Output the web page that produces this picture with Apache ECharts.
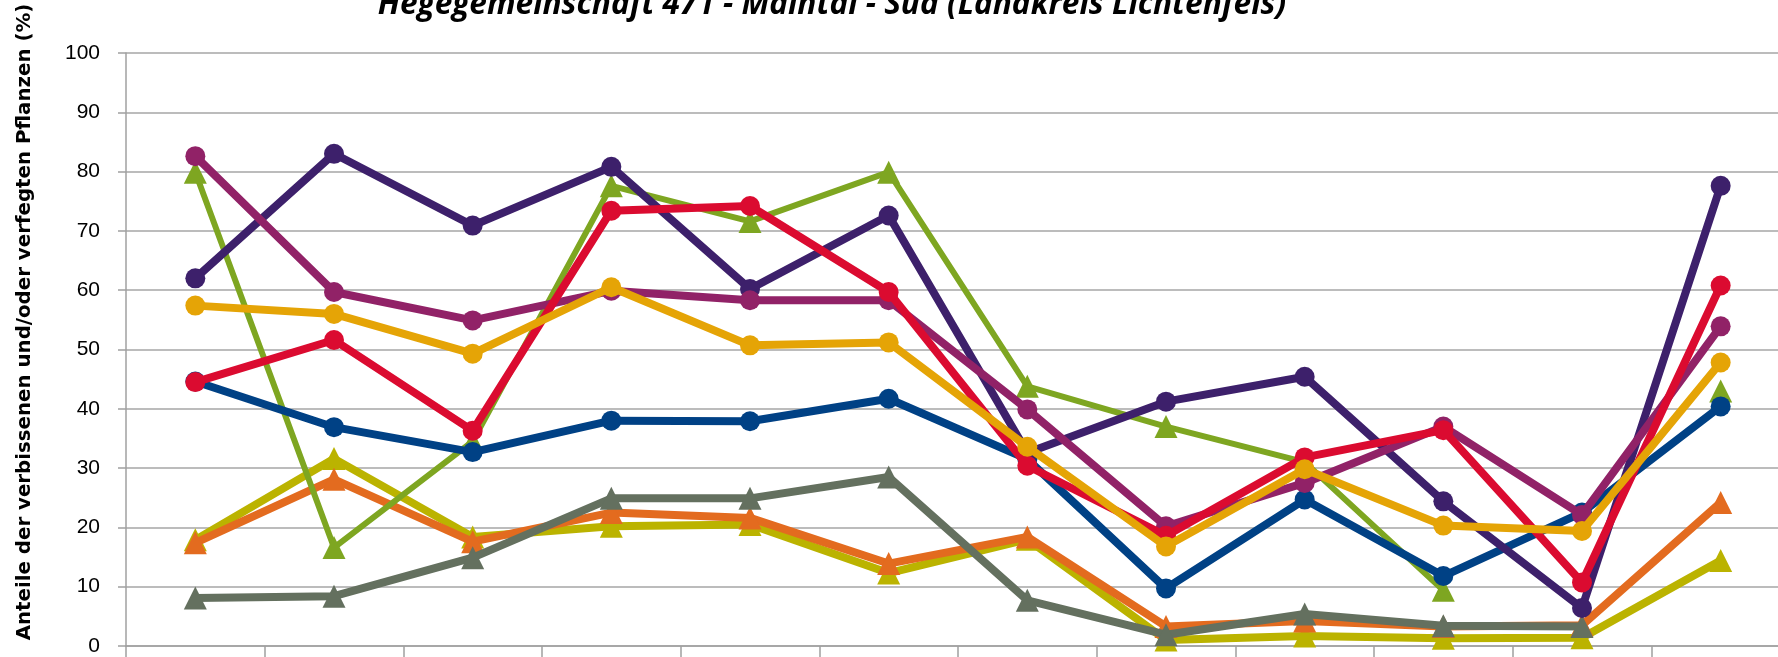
<!DOCTYPE html>
<html>
<head>
<meta charset="utf-8">
<script src="https://cdn.jsdelivr.net/npm/echarts@6/dist/echarts.min.js"></script>
<style>
  html, body { margin: 0; padding: 0; background: #fff; }
  #main { width: 1778px; height: 657px; }
</style>
</head>
<body>
<div id="main"></div>
<script>
// Kategorien (Beschriftung liegt unterhalb des Bildausschnitts)
var categories = ['1', '2', '3', '4', '5', '6', '7', '8', '9', '10', '11', '12'];
var yTicks = [0, 10, 20, 30, 40, 50, 60, 70, 80, 90, 100];

// Werte je Reihe (Prozent)
var olive   = [17.9, 31.6, 18.4, 20.2, 20.5, 12.3, 18.0, 1.0, 1.7, 1.3, 1.4, 14.4];
var orange  = [17.4, 28.1, 17.6, 22.5, 21.6, 13.9, 18.4, 3.3, 4.2, 3.3, 3.5, 24.2];
var grey    = [8.1, 8.4, 14.9, 24.9, 24.9, 28.5, 7.7, 1.9, 5.4, 3.4, 3.3, null];
var green   = [79.9, 16.6, 34.5, 77.6, 71.6, 79.9, 43.8, 37.0, 31.0, 9.4, null, 43.0];
var blue    = [44.6, 36.9, 32.7, 38.0, 37.9, 41.7, 31.5, 9.7, 24.7, 11.8, 22.5, 40.4];
var indigo  = [62.0, 83.0, 70.9, 80.8, 60.2, 72.6, 32.6, 41.2, 45.4, 24.4, 6.4, 77.6];
var plum    = [82.6, 59.7, 54.9, 59.9, 58.3, 58.3, 39.9, 20.2, 27.5, 37.0, 22.1, 53.9];
var red     = [44.5, 51.6, 36.3, 73.4, 74.2, 59.7, 30.4, 18.6, 31.8, 36.4, 10.7, 60.8];
var gold    = [57.4, 56.0, 49.3, 60.5, 50.7, 51.2, 33.6, 16.8, 29.8, 20.3, 19.4, 47.8];

var myChart = echarts.init(document.getElementById('main'));

function reihe(data, color, symbol, size, width, idx) {
    return {
        type: 'line',
        data: data,
        z: 2 + idx,
        symbol: symbol,
        symbolSize: size,
        showSymbol: true,
        animation: false,
        lineStyle: { color: color, width: width },
        itemStyle: { color: color, borderWidth: 0 }
    };
}

var option = {
    animation: false,
    graphic: [
        {
            // Titel (oben angeschnitten wie im Original)
            type: 'text',
            x: 832,
            y: -11,
            style: {
                text: 'Hegegemeinschaft 471 - Maintal - Süd (Landkreis Lichtenfels)',
                font: 'italic bold 31.6px "Open Sans"',
                fill: '#000',
                textAlign: 'center',
                textVerticalAlign: 'top'
            }
        },
        {
            // Achsentitel
            type: 'text',
            x: 25,
            y: 322,
            rotation: Math.PI / 2,
            style: {
                text: 'Anteile der verbissenen und/oder verfegten Pflanzen (%)',
                font: 'bold 19.8px "DejaVu Sans"',
                fill: '#000',
                textAlign: 'center',
                textVerticalAlign: 'middle'
            }
        }
    ],
    grid: { left: 126, top: 53, width: 1664, height: 593, outerBoundsMode: 'none', containLabel: false },
    xAxis: {
        type: 'category',
        data: categories,
        boundaryGap: true,
        axisLine: { lineStyle: { color: '#a0a0a0', width: 1.5 } },
        axisTick: { show: true, length: 14, lineStyle: { color: '#a0a0a0', width: 1.5 } },
        axisLabel: { show: false }
    },
    yAxis: {
        type: 'value',
        min: yTicks[0],
        max: yTicks[yTicks.length - 1],
        interval: 10,
        axisLine: { show: true, lineStyle: { color: '#a0a0a0', width: 1.5 } },
        axisTick: { show: true, length: 8, lineStyle: { color: '#a0a0a0', width: 1.5 } },
        axisLabel: {
            margin: 26,
            fontFamily: 'Liberation Sans',
            fontSize: 21,
            color: '#000'
        },
        splitLine: { lineStyle: { color: '#a6a6a6', width: 1.5 } }
    },
    series: [
        reihe(olive,  '#bbb300', 'triangle', 23, 8, 0),
        reihe(orange, '#e36b1f', 'triangle', 23, 8, 1),
        reihe(grey,   '#64705f', 'triangle', 23, 8, 2),
        reihe(green,  '#7ea621', 'triangle', 23, 6, 3),
        reihe(blue,   '#004185', 'circle', 20, 8, 4),
        reihe(indigo, '#3d206b', 'circle', 20, 8, 5),
        reihe(plum,   '#912267', 'circle', 20, 8, 6),
        reihe(red,    '#db0b30', 'circle', 20, 8, 7),
        reihe(gold,   '#e5a406', 'circle', 20, 8, 8)
    ]
};

myChart.setOption(option);
</script>
</body>
</html>
